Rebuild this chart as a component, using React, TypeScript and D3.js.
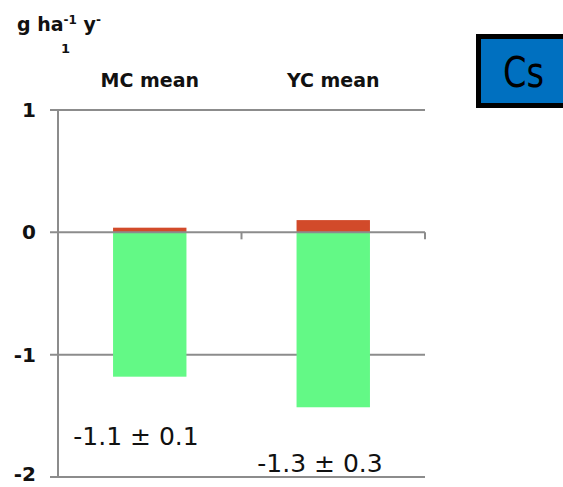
import React from "react";
import * as d3 from "d3";

const categories = ["MC mean", "YC mean"];
const positiveValues = [0.038, 0.1];
const negativeValues = [-1.18, -1.43];
const annotations = ["-1.1 ± 0.1", "-1.3 ± 0.3"];
const yTicks = [1, 0, -1, -2];

export default function App() {
  const W = 563, H = 487;
  const x = d3.scaleBand().domain(categories).range([58, 425]).paddingInner(0.6).paddingOuter(0.3);
  const y = d3.scaleLinear().domain([-2, 1]).range([477, 110]);
  const band = d3.scaleBand().domain(categories).range([58, 425]);
  const gray = "#8c8c8c";
  const font = "'DejaVu Sans', sans-serif";
  return (
    <svg width={W} height={H} style={{ position: "absolute", left: 0, top: 0 }}>
      <rect width={W} height={H} fill="#fff" />
      {/* unit label */}
      <text x={17} y={31} fontFamily={font} fontWeight="bold" fontSize={19} fill="#111">
        g ha<tspan dy={-7} fontSize={12}>-1</tspan><tspan dy={7}> y</tspan><tspan dy={-7} fontSize={12}>-</tspan>
      </text>
      <text x={61} y={53} fontFamily={font} fontWeight="bold" fontSize={13} fill="#111">1</text>
      {/* gridlines */}
      {yTicks.filter(t => t !== 0).map(t => (
        <line key={t} x1={50} x2={425} y1={y(t)} y2={y(t)} stroke={gray} strokeWidth={2} />
      ))}
      {/* y axis */}
      <line x1={58} x2={58} y1={y(1)} y2={y(-2)} stroke={gray} strokeWidth={2} />
      {yTicks.map(t => (
        <text key={t} x={36} y={Math.min(y(t) + 7, 481)} textAnchor="end" fontFamily={font} fontWeight="bold" fontSize={20} fill="#111">{t}</text>
      ))}
      {/* bars */}
      {categories.map((c, i) => (
        <g key={c}>
          <rect x={x(c)} width={x.bandwidth()} y={y(0)} height={y(negativeValues[i]) - y(0)} fill="#63f986" />
          <rect x={x(c)} width={x.bandwidth()} y={y(positiveValues[i])} height={y(0) - y(positiveValues[i])} fill="#d24a2a" />
        </g>
      ))}
      {/* zero axis */}
      <line x1={50} x2={425} y1={y(0)} y2={y(0)} stroke={gray} strokeWidth={2} />
      {categories.map(c => (
        <line key={c} x1={(band(c) ?? 0) + band.bandwidth()} x2={(band(c) ?? 0) + band.bandwidth()} y1={y(0)} y2={y(0) + 7} stroke={gray} strokeWidth={2} />
      ))}
      {/* category headers */}
      {categories.map(c => (
        <text key={c} x={(x(c) ?? 0) + x.bandwidth() / 2} y={87} textAnchor="middle" fontFamily={font} fontWeight="bold" fontSize={19} fill="#111">{c}</text>
      ))}
      {/* annotations */}
      <text x={136} y={445} textAnchor="middle" fontFamily={font} fontSize={25} fill="#111">{annotations[0]}</text>
      <text x={320} y={472} textAnchor="middle" fontFamily={font} fontSize={25} fill="#111">{annotations[1]}</text>
      {/* Cs box */}
      <rect x={478.5} y={36.5} width={100} height={69} fill="#0070c0" stroke="#000" strokeWidth={5} />
      <text x={503} y={87} fontFamily={font} fontSize={43} textLength={41} lengthAdjust="spacingAndGlyphs" fill="#000">Cs</text>
    </svg>
  );
}
